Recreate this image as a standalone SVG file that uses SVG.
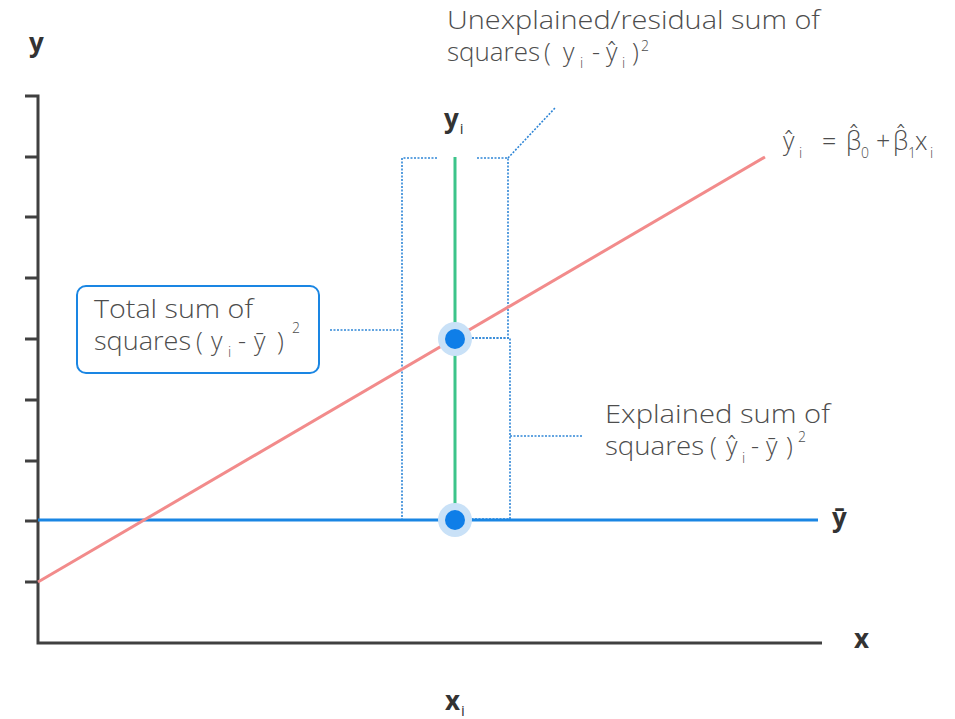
<svg xmlns="http://www.w3.org/2000/svg" width="955" height="719" viewBox="0 0 955 719">
<style>
.t{font-family:"Open Sans","Liberation Sans",sans-serif;font-size:25px;font-weight:300;fill:#4d4d4d}
.s{font-size:14px}
.b{font-family:"Open Sans","Liberation Sans",sans-serif;font-size:26px;font-weight:bold;fill:#333}
.bs{font-size:15px;font-weight:normal}
.dot{fill:none;stroke:#2f86d6;stroke-width:1.6;stroke-dasharray:2 1.5}
.axis{stroke:#404040;stroke-width:3;fill:none}
</style>
<rect width="955" height="719" fill="#fff"/>
<g id="axes">
<path class="axis" d="M25,96 H38 V643 H822"/>
<path class="axis" d="M25,157 H38 M25,217 H38 M25,278 H38 M25,339 H38 M25,400 H38 M25,461 H38 M25,521 H38 M25,582 H38"/>
</g>
<g id="connectors">
<path class="dot" d="M437,158 H402 V520 H440"/>
<path class="dot" d="M330,330 H402"/>
<path class="dot" d="M477,158 H508 V338 H472"/>
<path class="dot" d="M508,158 L555,108"/>
<path class="dot" d="M472,338 H510 V519 H472"/>
<path class="dot" d="M510,436 H583"/>
</g>
<g id="mean-line"><line x1="38" y1="520" x2="818" y2="520" stroke="#1a86e3" stroke-width="3"/></g>
<g id="regression-line"><line x1="38" y1="582" x2="765" y2="157" stroke="#f28b8b" stroke-width="3"/></g>
<g id="residual-line"><line x1="455" y1="157" x2="455" y2="520" stroke="#3cc48a" stroke-width="3"/></g>
<g id="point-fit"><circle cx="455" cy="339" r="17" fill="#c9e1f7"/><circle cx="455" cy="339" r="10" fill="#0f7ee8"/></g>
<g id="point-mean"><circle cx="455" cy="520" r="17" fill="#c9e1f7"/><circle cx="455" cy="520" r="10" fill="#0f7ee8"/></g>
<g id="label-y"><text class="b" x="29" y="52">y</text></g>
<g id="label-x"><text class="b" x="854" y="648">x</text></g>
<g id="label-ybar"><text class="b" x="832" y="527">ȳ</text></g>
<g id="label-yi"><text class="b" x="444" y="128">y<tspan class="bs" dx="1" dy="6">i</tspan></text></g>
<g id="label-xi"><text class="b" x="445" y="710">x<tspan class="bs" dx="1" dy="6">i</tspan></text></g>
<g id="label-unexplained">
<text class="t" x="447" y="29" textLength="373" lengthAdjust="spacingAndGlyphs">Unexplained/residual sum of</text>
<text class="t" x="447" y="61" textLength="93" lengthAdjust="spacingAndGlyphs">squares</text>
<text class="t" y="61"><tspan x="544">(</tspan><tspan x="563">y</tspan><tspan class="s" x="580" y="68">i</tspan><tspan x="592" y="61">-</tspan><tspan x="606">ŷ</tspan><tspan class="s" x="622" y="68">i</tspan><tspan x="632" y="61">)</tspan><tspan class="s" x="641" y="51">2</tspan></text>
</g>
<g id="label-formula">
<text class="t" y="150" font-size="24"><tspan x="783">ŷ</tspan><tspan class="s" x="799" y="158">i</tspan><tspan x="822" y="150">=</tspan><tspan x="846">β̂</tspan><tspan class="s" x="861" y="158">0</tspan><tspan x="876" y="150">+</tspan><tspan x="893">β̂</tspan><tspan class="s" x="908" y="158">1</tspan><tspan x="915" y="150">x</tspan><tspan class="s" x="930" y="158">i</tspan></text>
</g>
<g id="box-total">
<rect x="77" y="286" width="242" height="87" rx="9" fill="#fff" stroke="#1a86e3" stroke-width="2"/>
<text class="t" x="94" y="318" textLength="159" lengthAdjust="spacingAndGlyphs">Total sum of</text>
<text class="t" x="94" y="350" textLength="97" lengthAdjust="spacingAndGlyphs">squares</text>
<text class="t" y="350"><tspan x="196">(</tspan><tspan x="211">y</tspan><tspan class="s" x="228" y="357">i</tspan><tspan x="238" y="350">-</tspan><tspan x="254">ȳ</tspan><tspan x="277">)</tspan><tspan class="s" x="292" y="333">2</tspan></text>
</g>
<g id="label-explained">
<text class="t" x="605" y="423" textLength="225" lengthAdjust="spacingAndGlyphs">Explained sum of</text>
<text class="t" x="605" y="455" textLength="99" lengthAdjust="spacingAndGlyphs">squares</text>
<text class="t" y="455"><tspan x="710">(</tspan><tspan x="726">ŷ</tspan><tspan class="s" x="742" y="463">i</tspan><tspan x="751" y="455">-</tspan><tspan x="766">ȳ</tspan><tspan x="786">)</tspan><tspan class="s" font-size="13" x="798" y="442">2</tspan></text>
</g>
</svg>
